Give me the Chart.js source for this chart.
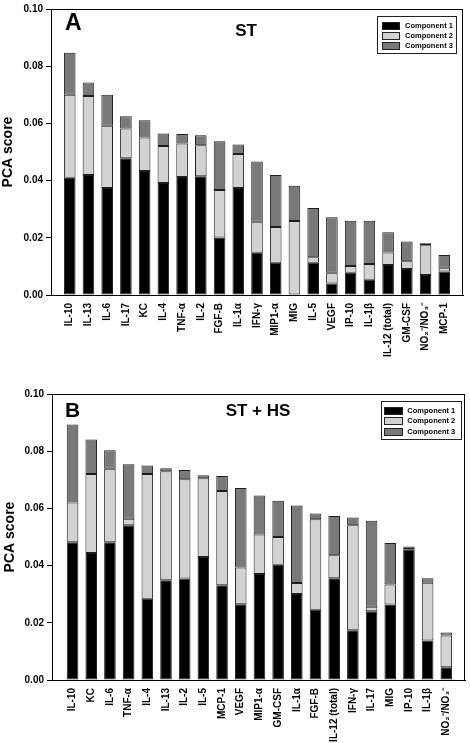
<!DOCTYPE html>
<html><head><meta charset="utf-8">
<script src="https://cdn.jsdelivr.net/npm/chart.js@4"></script>
<style>
html,body{margin:0;padding:0;background:#fff;}
body{width:470px;height:743px;position:relative;overflow:hidden;font-family:'Liberation Sans',Arial,sans-serif;}
canvas{position:absolute;left:0;}
.panel{position:absolute;font-weight:bold;color:#000;line-height:1;white-space:nowrap;}
.legend{position:absolute;border:1px solid #222;background:#fff;box-sizing:border-box;}
.sw{position:absolute;height:8px;box-sizing:border-box;border:1px solid #222;}
.lt{position:absolute;font-size:7.5px;font-weight:bold;line-height:8px;color:#000;white-space:nowrap;}
</style>
</head><body>
<canvas id="chartA" width="470" height="385" style="top:0"></canvas>
<canvas id="chartB" width="470" height="358" style="top:385px"></canvas>
<div class="panel" style="left:65px;top:11.3px;font-size:23px;">A</div>
<div class="panel" style="left:246px;top:21.8px;font-size:17px;transform:translateX(-50%);">ST</div>
<div class="panel" style="left:65px;top:399px;font-size:21px;">B</div>
<div class="panel" style="left:258px;top:401.8px;font-size:17px;transform:translateX(-50%);">ST + HS</div>
<div id="legA" class="legend" style="left:377px;top:16px;width:80px;height:37.5px;"></div>
<div id="legB" class="legend" style="left:381px;top:401px;width:81.3px;height:39px;"></div>
<script>
// ---- Data ----
const componentNames = ['Component 1', 'Component 2', 'Component 3'];
const yTickValues = [0, 0.02, 0.04, 0.06, 0.08, 0.10];

// Panel A: ST
const labelsA = ['IL-10','IL-13','IL-6','IL-17','KC','IL-4','TNF-α','IL-2','FGF-B','IL-1α','IFN-γ','MIP1-α','MIG','IL-5','VEGF','IP-10','IL-1β','IL-12 (total)','GM-CSF','NO₂⁻/NO₃⁻','MCP-1'];
const comp1A = [0.0410,0.0420,0.0374,0.0478,0.0434,0.0392,0.0413,0.0415,0.0201,0.0374,0.0148,0.0113,0.0000,0.0113,0.0040,0.0078,0.0053,0.0105,0.0091,0.0070,0.0082];
const comp2A = [0.0290,0.0276,0.0218,0.0104,0.0117,0.0129,0.0117,0.0109,0.0166,0.0119,0.0108,0.0125,0.0259,0.0019,0.0038,0.0023,0.0055,0.0044,0.0027,0.0104,0.0013];
const comp3A = [0.0147,0.0047,0.0108,0.0043,0.0060,0.0044,0.0033,0.0035,0.0171,0.0033,0.0211,0.0182,0.0123,0.0172,0.0194,0.0159,0.0152,0.0070,0.0069,0.0007,0.0045];

// Panel B: ST + HS
const labelsB = ['IL-10','KC','IL-6','TNF-α','IL-4','IL-13','IL-2','IL-5','MCP-1','VEGF','MIP1-α','GM-CSF','IL-1α','FGF-B','IL-12 (total)','IFN-γ','IL-17','MIG','IP-10','IL-1β','NO₂⁻/NO₃⁻'];
const comp1B = [0.0482,0.0444,0.0482,0.0541,0.0284,0.0349,0.0355,0.0430,0.0331,0.0265,0.0371,0.0403,0.0301,0.0246,0.0356,0.0174,0.0240,0.0264,0.0455,0.0138,0.0045];
const comp2B = [0.0139,0.0276,0.0257,0.0023,0.0436,0.0381,0.0347,0.0275,0.0330,0.0128,0.0138,0.0097,0.0038,0.0316,0.0080,0.0367,0.0016,0.0070,0.0007,0.0202,0.0111];
const comp3B = [0.0272,0.0121,0.0064,0.0190,0.0030,0.0010,0.0032,0.0011,0.0052,0.0278,0.0136,0.0127,0.0271,0.0020,0.0137,0.0027,0.0301,0.0145,0.0005,0.0016,0.0010];

// ---- Styles ----
const componentColors = ['#000000', '#d2d2d2', '#797979'];
const edgeColor = '#1e1e1e';

Chart.defaults.font.family = "'Liberation Sans', Arial, sans-serif";
Chart.defaults.font.weight = 'bold';
Chart.defaults.color = '#000';

const framePlugin = {
  id: 'frame',
  afterDatasetsDraw(chart) {
    const a = chart.chartArea, ctx = chart.ctx;
    ctx.save();
    ctx.strokeStyle = '#000';
    ctx.lineWidth = 1;
    const l = Math.round(a.left) + 0.5, t = Math.round(a.top) + 0.5;
    const r = Math.round(a.right) - 0.5, b = Math.round(a.bottom) + 0.5;
    ctx.strokeRect(l, t, r - l, b - t);
    ctx.restore();
  }
};

function makeChart(id, labels, series, geo) {
  const datasets = series.map((vals, k) => ({
    label: componentNames[k],
    data: vals.map((v, i) => ({ x: i, y: v })),
    backgroundColor: componentColors[k],
    borderColor: edgeColor,
    borderWidth: 1,
    borderSkipped: false,
    categoryPercentage: 1,
    barPercentage: 0.62
  }));
  return new Chart(document.getElementById(id), {
    type: 'bar',
    data: { datasets },
    options: {
      responsive: false,
      animation: false,
      layout: { padding: { top: geo.padTop, right: geo.padRight, left: 0, bottom: 0 } },
      plugins: { legend: { display: false }, tooltip: { enabled: false } },
      scales: {
        x: {
          type: 'linear', stacked: true, offset: false,
          min: geo.xMin, max: labels.length,
          afterBuildTicks(s) { s.ticks = labels.map((_, i) => ({ value: i })); },
          grid: { display: false, drawTicks: false },
          border: { display: true, color: '#000', width: 1 },
          ticks: {
            autoSkip: false, maxRotation: 90, minRotation: 90, padding: geo.xPad,
            font: { size: 10, weight: 'bold' }, color: '#000',
            callback: (v) => labels[v] !== undefined ? labels[v] : ''
          },
          afterFit(s) { s.height = geo.xHeight; }
        },
        y: {
          stacked: true, min: 0, max: 0.1,
          afterBuildTicks(s) { s.ticks = yTickValues.map(v => ({ value: v })); },
          ticks: { callback: (v) => Number(v).toFixed(2), font: { size: 10, weight: 'bold' }, color: '#000', padding: 3 },
          grid: { display: true, drawOnChartArea: false, drawTicks: true, tickLength: 5, color: '#000' },
          border: { display: true, color: '#000', width: 1 },
          title: { display: true, text: 'PCA score', font: { size: 14, weight: 'bold' }, color: '#000', padding: { top: geo.titlePad, bottom: 0 } },
          afterFit(s) { s.width = geo.yWidth; }
        }
      }
    },
    plugins: [framePlugin]
  });
}

makeChart('chartA', labelsA, [comp1A, comp2A, comp3A],
  { padTop: 7, padRight: 7, xHeight: 90, yWidth: 51, xPad: 8, xMin: -1, titlePad: 0 });
makeChart('chartB', labelsB, [comp1B, comp2B, comp3B],
  { padTop: 6.3, padRight: 5, xHeight: 63, yWidth: 52, xPad: 8, xMin: -1.1, titlePad: 2 });

function buildLegend(id, g) {
  const box = document.getElementById(id);
  componentNames.forEach((name, k) => {
    const sw = document.createElement('div');
    sw.className = 'sw';
    sw.style.left = g.swLeft + 'px';
    sw.style.top = (g.rowTop + k * g.pitch) + 'px';
    sw.style.width = g.swWidth + 'px';
    sw.style.background = componentColors[k];
    box.appendChild(sw);
    const tx = document.createElement('div');
    tx.className = 'lt';
    tx.style.left = g.textLeft + 'px';
    tx.style.top = (g.rowTop + k * g.pitch) + 'px';
    tx.textContent = name;
    box.appendChild(tx);
  });
}
buildLegend('legA', { swLeft: 3.7, swWidth: 18, rowTop: 4.7, pitch: 10.3, textLeft: 27 });
buildLegend('legB', { swLeft: 2.3, swWidth: 18.4, rowTop: 4.7, pitch: 10.7, textLeft: 25.3 });
</script>
</body></html>
